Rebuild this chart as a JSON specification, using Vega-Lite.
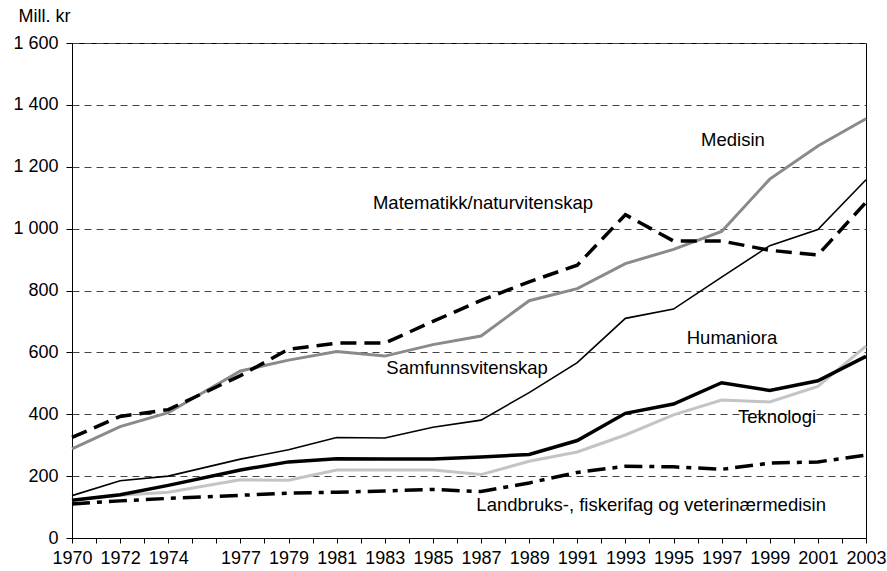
{
  "$schema": "https://vega.github.io/schema/vega-lite/v6.json",
  "width": 794,
  "height": 495,
  "autosize": {"type": "none"},
  "padding": {"left": 72, "top": 43, "right": 21, "bottom": 33},
  "background": "white",
  "config": {
    "font": "Liberation Sans",
    "view": {"stroke": "black", "strokeWidth": 1},
    "axis": {"labelFont": "Liberation Sans", "titleFont": "Liberation Sans", "labelColor": "black", "titleColor": "black"}
  },
  "datasets": {
    "series": [
      {"fag": "Matematikk/naturvitenskap", "year": 1970, "value": 325},
      {"fag": "Matematikk/naturvitenskap", "year": 1972, "value": 393},
      {"fag": "Matematikk/naturvitenskap", "year": 1974, "value": 415},
      {"fag": "Matematikk/naturvitenskap", "year": 1977, "value": 525},
      {"fag": "Matematikk/naturvitenskap", "year": 1979, "value": 610},
      {"fag": "Matematikk/naturvitenskap", "year": 1981, "value": 630},
      {"fag": "Matematikk/naturvitenskap", "year": 1983, "value": 630},
      {"fag": "Matematikk/naturvitenskap", "year": 1985, "value": 700},
      {"fag": "Matematikk/naturvitenskap", "year": 1987, "value": 768},
      {"fag": "Matematikk/naturvitenskap", "year": 1989, "value": 828},
      {"fag": "Matematikk/naturvitenskap", "year": 1991, "value": 882},
      {"fag": "Matematikk/naturvitenskap", "year": 1993, "value": 1045},
      {"fag": "Matematikk/naturvitenskap", "year": 1995, "value": 960},
      {"fag": "Matematikk/naturvitenskap", "year": 1997, "value": 960},
      {"fag": "Matematikk/naturvitenskap", "year": 1999, "value": 930},
      {"fag": "Matematikk/naturvitenskap", "year": 2001, "value": 915},
      {"fag": "Matematikk/naturvitenskap", "year": 2003, "value": 1085},
      {"fag": "Medisin", "year": 1970, "value": 288},
      {"fag": "Medisin", "year": 1972, "value": 360},
      {"fag": "Medisin", "year": 1974, "value": 405},
      {"fag": "Medisin", "year": 1977, "value": 540},
      {"fag": "Medisin", "year": 1979, "value": 575},
      {"fag": "Medisin", "year": 1981, "value": 603},
      {"fag": "Medisin", "year": 1983, "value": 588},
      {"fag": "Medisin", "year": 1985, "value": 625},
      {"fag": "Medisin", "year": 1987, "value": 653},
      {"fag": "Medisin", "year": 1989, "value": 767},
      {"fag": "Medisin", "year": 1991, "value": 806},
      {"fag": "Medisin", "year": 1993, "value": 887},
      {"fag": "Medisin", "year": 1995, "value": 933},
      {"fag": "Medisin", "year": 1997, "value": 991},
      {"fag": "Medisin", "year": 1999, "value": 1160},
      {"fag": "Medisin", "year": 2001, "value": 1267},
      {"fag": "Medisin", "year": 2003, "value": 1355},
      {"fag": "Samfunnsvitenskap", "year": 1970, "value": 137},
      {"fag": "Samfunnsvitenskap", "year": 1972, "value": 185},
      {"fag": "Samfunnsvitenskap", "year": 1974, "value": 200},
      {"fag": "Samfunnsvitenskap", "year": 1977, "value": 255},
      {"fag": "Samfunnsvitenskap", "year": 1979, "value": 285},
      {"fag": "Samfunnsvitenskap", "year": 1981, "value": 325},
      {"fag": "Samfunnsvitenskap", "year": 1983, "value": 323},
      {"fag": "Samfunnsvitenskap", "year": 1985, "value": 358},
      {"fag": "Samfunnsvitenskap", "year": 1987, "value": 381},
      {"fag": "Samfunnsvitenskap", "year": 1989, "value": 470},
      {"fag": "Samfunnsvitenskap", "year": 1991, "value": 567},
      {"fag": "Samfunnsvitenskap", "year": 1993, "value": 710},
      {"fag": "Samfunnsvitenskap", "year": 1995, "value": 740},
      {"fag": "Samfunnsvitenskap", "year": 1997, "value": 843},
      {"fag": "Samfunnsvitenskap", "year": 1999, "value": 945},
      {"fag": "Samfunnsvitenskap", "year": 2001, "value": 997},
      {"fag": "Samfunnsvitenskap", "year": 2003, "value": 1158},
      {"fag": "Humaniora", "year": 1970, "value": 122},
      {"fag": "Humaniora", "year": 1972, "value": 140},
      {"fag": "Humaniora", "year": 1974, "value": 170},
      {"fag": "Humaniora", "year": 1977, "value": 220},
      {"fag": "Humaniora", "year": 1979, "value": 246},
      {"fag": "Humaniora", "year": 1981, "value": 256},
      {"fag": "Humaniora", "year": 1983, "value": 255},
      {"fag": "Humaniora", "year": 1985, "value": 255},
      {"fag": "Humaniora", "year": 1987, "value": 262},
      {"fag": "Humaniora", "year": 1989, "value": 270},
      {"fag": "Humaniora", "year": 1991, "value": 315},
      {"fag": "Humaniora", "year": 1993, "value": 403},
      {"fag": "Humaniora", "year": 1995, "value": 433},
      {"fag": "Humaniora", "year": 1997, "value": 502},
      {"fag": "Humaniora", "year": 1999, "value": 477},
      {"fag": "Humaniora", "year": 2001, "value": 508},
      {"fag": "Humaniora", "year": 2003, "value": 587},
      {"fag": "Teknologi", "year": 1970, "value": 122},
      {"fag": "Teknologi", "year": 1972, "value": 138},
      {"fag": "Teknologi", "year": 1974, "value": 148},
      {"fag": "Teknologi", "year": 1977, "value": 188},
      {"fag": "Teknologi", "year": 1979, "value": 187},
      {"fag": "Teknologi", "year": 1981, "value": 220},
      {"fag": "Teknologi", "year": 1983, "value": 220},
      {"fag": "Teknologi", "year": 1985, "value": 220},
      {"fag": "Teknologi", "year": 1987, "value": 205},
      {"fag": "Teknologi", "year": 1989, "value": 248},
      {"fag": "Teknologi", "year": 1991, "value": 278},
      {"fag": "Teknologi", "year": 1993, "value": 333},
      {"fag": "Teknologi", "year": 1995, "value": 398},
      {"fag": "Teknologi", "year": 1997, "value": 446},
      {"fag": "Teknologi", "year": 1999, "value": 440},
      {"fag": "Teknologi", "year": 2001, "value": 490},
      {"fag": "Teknologi", "year": 2003, "value": 620},
      {"fag": "Landbruks-, fiskerifag og veterinærmedisin", "year": 1970, "value": 110},
      {"fag": "Landbruks-, fiskerifag og veterinærmedisin", "year": 1972, "value": 120},
      {"fag": "Landbruks-, fiskerifag og veterinærmedisin", "year": 1974, "value": 128},
      {"fag": "Landbruks-, fiskerifag og veterinærmedisin", "year": 1977, "value": 138},
      {"fag": "Landbruks-, fiskerifag og veterinærmedisin", "year": 1979, "value": 145},
      {"fag": "Landbruks-, fiskerifag og veterinærmedisin", "year": 1981, "value": 148},
      {"fag": "Landbruks-, fiskerifag og veterinærmedisin", "year": 1983, "value": 152},
      {"fag": "Landbruks-, fiskerifag og veterinærmedisin", "year": 1985, "value": 157},
      {"fag": "Landbruks-, fiskerifag og veterinærmedisin", "year": 1987, "value": 150},
      {"fag": "Landbruks-, fiskerifag og veterinærmedisin", "year": 1989, "value": 178},
      {"fag": "Landbruks-, fiskerifag og veterinærmedisin", "year": 1991, "value": 212},
      {"fag": "Landbruks-, fiskerifag og veterinærmedisin", "year": 1993, "value": 232},
      {"fag": "Landbruks-, fiskerifag og veterinærmedisin", "year": 1995, "value": 230},
      {"fag": "Landbruks-, fiskerifag og veterinærmedisin", "year": 1997, "value": 222},
      {"fag": "Landbruks-, fiskerifag og veterinærmedisin", "year": 1999, "value": 242},
      {"fag": "Landbruks-, fiskerifag og veterinærmedisin", "year": 2001, "value": 246},
      {"fag": "Landbruks-, fiskerifag og veterinærmedisin", "year": 2003, "value": 268}
    ],
    "labels": [
      {"label": "Medisin", "year": 1997.47, "value": 1286},
      {"label": "Matematikk/naturvitenskap", "year": 1987.08, "value": 1083},
      {"label": "Humaniora", "year": 1997.43, "value": 646},
      {"label": "Samfunnsvitenskap", "year": 1986.42, "value": 549},
      {"label": "Teknologi", "year": 1999.3, "value": 391},
      {"label": "Landbruks-, fiskerifag og veterinærmedisin", "year": 1994.07, "value": 107}
    ]
  },
  "encoding": {
    "x": {
      "field": "year", "type": "quantitative",
      "scale": {"domain": [1970, 2003], "nice": false, "zero": false},
      "axis": {
        "title": null,
        "values": [1970,1971,1972,1973,1974,1975,1976,1977,1978,1979,1980,1981,1982,1983,1984,1985,1986,1987,1988,1989,1990,1991,1992,1993,1994,1995,1996,1997,1998,1999,2000,2001,2002,2003],
        "tickCount": 100,
        "format": "d",
        "labelExpr": "indexof([1970,1972,1974,1977,1979,1981,1983,1985,1987,1989,1991,1993,1995,1997,1999,2001,2003], datum.value) >= 0 ? datum.label : ''",
        "labelOverlap": false,
        "labelFlush": false,
        "labelFontSize": 18,
        "labelPadding": 6,
        "tickSize": 5,
        "tickColor": "black",
        "domainColor": "black",
        "grid": false
      }
    },
    "y": {
      "field": "value", "type": "quantitative",
      "scale": {"domain": [0, 1600], "nice": false},
      "axis": {
        "title": "Mill. kr",
        "titleAngle": 0,
        "titleAlign": "left",
        "titleBaseline": "alphabetic",
        "titleX": -54,
        "titleY": -22,
        "titleFontSize": 18,
        "titleFontWeight": "normal",
        "values": [0,200,400,600,800,1000,1200,1400,1600],
        "labelExpr": "replace(format(datum.value, ','), ',', ' ')",
        "labelFontSize": 18,
        "labelPadding": 8,
        "tickSize": 6,
        "tickColor": "black",
        "domainColor": "black",
        "grid": true,
        "gridColor": "#444444",
        "gridDash": [7, 5],
        "gridWidth": 1
      }
    }
  },
  "layer": [
    {
      "data": {"name": "series"},
      "transform": [{"filter": "datum.fag === 'Landbruks-, fiskerifag og veterinærmedisin'"}],
      "mark": {"type": "line", "color": "black", "strokeWidth": 3.5, "strokeDash": [18, 7, 5, 7], "strokeCap": "butt"}
    },
    {
      "data": {"name": "series"},
      "transform": [{"filter": "datum.fag === 'Teknologi'"}],
      "mark": {"type": "line", "color": "#c4c4c4", "strokeWidth": 3}
    },
    {
      "data": {"name": "series"},
      "transform": [{"filter": "datum.fag === 'Humaniora'"}],
      "mark": {"type": "line", "color": "black", "strokeWidth": 3.5}
    },
    {
      "data": {"name": "series"},
      "transform": [{"filter": "datum.fag === 'Samfunnsvitenskap'"}],
      "mark": {"type": "line", "color": "black", "strokeWidth": 1.6}
    },
    {
      "data": {"name": "series"},
      "transform": [{"filter": "datum.fag === 'Medisin'"}],
      "mark": {"type": "line", "color": "#8a8a8a", "strokeWidth": 3}
    },
    {
      "data": {"name": "series"},
      "transform": [{"filter": "datum.fag === 'Matematikk/naturvitenskap'"}],
      "mark": {"type": "line", "color": "black", "strokeWidth": 3.5, "strokeDash": [16, 8], "strokeCap": "butt"}
    },
    {
      "data": {"name": "labels"},
      "mark": {"type": "text", "font": "Liberation Sans", "fontSize": 18.5, "align": "center", "baseline": "middle", "color": "black"},
      "encoding": {
        "text": {"field": "label"}
      }
    }
  ]
}
